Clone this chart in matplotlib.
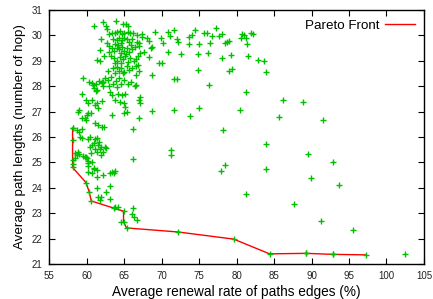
import matplotlib
matplotlib.use("Agg")
import matplotlib.pyplot as plt
import numpy as np

# Pareto front (red line)
pareto_x = [58.1, 58.1, 58.1, 59.9, 60.3, 60.6, 63.6, 64.9, 64.9, 65.3, 72.2, 79.6, 84.4, 89.3, 92.8, 97.3]
pareto_y = [26.35, 24.95, 24.8, 24.2, 23.85, 23.48, 23.2, 23.08, 22.66, 22.42, 22.26, 21.98, 21.4, 21.42, 21.38, 21.36]

# all other solutions (green crosses)
sol_x = [
    60.9, 62.1, 62.5, 62.7, 63.9, 64.8, 65.2, 65.5,
    62.9, 63.3, 63.7, 64.0, 64.4, 64.7, 65.0, 65.5, 65.8, 66.1,
    66.7, 67.3, 67.4, 66.7, 67.0, 66.9,
    68.1, 68.3, 68.6, 68.7, 69.1, 69.9, 70.2,
    70.9, 71.1, 71.7, 72.1, 72.2, 70.9, 72.6,
    73.6, 74.0, 74.5, 75.6, 76.0, 76.7, 73.7, 75.0, 76.5, 74.8, 76.2,
    67.1, 67.7, 68.3, 66.5, 66.8, 67.0, 66.6, 68.7, 69.6, 74.8, 71.6, 72.1, 76.3, 66.4,
    77.2, 77.6, 78.0, 78.7, 79.0, 78.5, 80.7, 81.0, 80.6, 81.2, 81.4, 81.9, 82.2,
    78.0, 79.3, 81.5, 82.8, 83.6, 83.9, 79.0, 79.4,
    81.2, 86.2, 88.8, 80.5, 85.7, 91.5, 78.2, 83.9, 89.5, 92.8, 78.5, 77.9,
    83.9, 89.9, 93.7, 81.2, 87.7, 91.2, 95.6, 89.2, 92.8, 102.5,
    59.4, 61.2, 63.1, 63.3, 64.1, 64.7, 65.1, 63.8, 64.4, 64.9, 65.1, 65.3, 64.9,
    60.7, 60.2, 61.1, 61.3, 62.0, 61.5, 59.0, 58.8, 60.0, 60.2, 60.6, 59.8, 63.4,
    61.1, 61.5, 62.0, 62.3, 66.2, 58.2, 58.7, 59.0, 59.3,
    59.1, 59.3, 60.1, 60.4, 61.1, 61.3, 60.9, 61.5, 62.4, 62.2, 61.8, 61.1,
    58.8, 58.4, 58.7, 58.2, 59.7, 60.0, 60.2, 60.7, 61.0, 61.3, 66.1, 58.1, 58.4,
    59.0, 59.5, 59.9, 60.5, 60.1, 60.2, 60.1, 60.9, 61.3, 60.7, 62.2, 63.1, 63.3, 63.7, 63.6,
    61.9, 62.5, 61.9, 61.6, 60.7, 60.4, 61.4,
    63.1, 62.5, 61.3, 61.9, 61.5, 61.7, 63.1, 63.8, 64.1,
    71.25, 71.25, 66.1, 66.25, 66.7, 66.0, 64.55,
    59.5, 66.9, 67.05, 67.1, 66.5, 65.9, 66.9, 68.7, 71.6, 73.75, 75.0, 70.0,
    61.9, 61.8, 61.4, 61.7, 62.3, 62.7,
    63.5, 64.0, 64.3, 64.7, 65.0, 65.3, 64.5, 65.6, 66.0, 65.9, 63.8, 64.2,
    63.0, 63.3, 63.6, 64.0, 64.3, 64.7, 65.0, 65.3, 65.6, 66.0, 66.4, 62.9, 64.5, 65.2,
    63.2, 63.6, 64.0, 64.4, 64.8, 65.1, 65.5, 65.8, 66.3, 66.8, 63.8, 64.6,
    63.5, 64.0, 64.3, 64.6, 65.0, 65.3, 65.6, 66.0, 66.6, 63.8, 64.8, 62.8,
    60.3, 60.8, 61.2, 61.6, 62.0, 62.4, 62.8, 63.2, 63.5, 63.9, 64.3, 64.6, 65.0, 65.5, 62.2, 63.0, 64.0,
    60.7, 61.0, 61.3, 62.0, 62.2, 59.9, 59.4, 59.9,
]
sol_y = [
    30.37, 30.52, 30.36, 30.24, 30.56, 30.45, 30.43, 30.35,
    30.05, 30.08, 30.10, 30.12, 30.15, 30.05, 30.10, 30.12, 30.08, 30.10,
    30.02, 30.04, 29.95, 29.75, 29.69, 29.58,
    29.89, 29.79, 29.49, 29.53, 30.11, 29.89, 29.69,
    30.11, 29.98, 30.21, 29.85, 29.75, 29.34, 29.26,
    29.95, 30.02, 30.19, 30.08, 30.08, 29.98, 29.66, 29.65, 29.69, 29.26, 29.30,
    29.30, 29.36, 29.16, 29.06, 28.85, 28.60, 28.45, 28.44, 28.90, 28.64, 28.28, 28.27, 28.05, 27.99,
    30.28, 29.98, 30.06, 29.75, 29.79, 29.71, 30.06, 30.02, 29.89, 29.89, 29.66, 30.08, 30.06,
    29.12, 29.23, 29.20, 29.03, 29.00, 28.55, 28.61, 28.68,
    27.75, 27.46, 27.36, 27.05, 26.78, 26.67, 26.28, 25.72, 25.32, 25.00, 24.90, 24.67,
    24.74, 24.37, 24.11, 23.74, 23.35, 22.71, 22.32, 21.44, 21.39, 21.40,
    27.70, 27.81, 27.78, 27.65, 27.69, 27.65, 27.69, 27.46, 27.39, 27.33, 27.19, 27.00, 26.93,
    27.46, 27.33, 27.26, 27.33, 27.43, 27.13, 27.06, 27.00, 26.87, 26.93, 26.96, 26.74, 26.87,
    26.54, 26.47, 26.41, 26.38, 26.30, 26.36, 26.28, 26.21, 26.30,
    26.00, 25.95, 25.91, 26.00, 25.91, 25.95, 25.75, 25.69, 25.60, 25.42, 25.51, 25.51,
    25.42, 25.36, 25.29, 25.88, 25.22, 25.16, 24.96, 25.03, 24.77, 24.70, 25.12, 25.10, 25.16,
    25.33, 25.25, 25.20, 25.35, 25.07, 24.86, 24.63, 24.72, 24.44, 24.57, 24.50, 24.57, 24.63, 24.67, 24.57,
    25.62, 25.55, 25.29, 25.81, 25.69, 25.62, 25.42,
    24.08, 23.85, 23.98, 23.62, 23.65, 23.52, 23.54, 23.25, 23.25,
    25.49, 25.29, 23.19, 22.86, 22.73, 22.97, 22.66,
    28.31, 27.46, 27.33, 27.59, 28.05, 28.18, 26.73, 27.02, 27.06, 26.83, 27.13, 28.90,
    29.85, 29.43, 29.03, 29.00, 29.17, 29.69,
    29.85, 29.82, 29.90, 29.80, 29.90, 29.85, 29.70, 29.75, 29.85, 29.60, 29.65, 29.60,
    29.58, 29.49, 29.40, 29.50, 29.45, 29.55, 29.40, 29.50, 29.35, 29.45, 29.55, 29.36, 29.30, 29.25,
    29.20, 29.10, 29.00, 29.15, 29.05, 29.20, 28.95, 29.10, 29.00, 29.20, 28.90, 28.90,
    28.70, 28.75, 28.60, 28.70, 28.55, 28.80, 28.65, 28.70, 28.80, 28.50, 28.50, 28.60,
    28.15, 28.05, 28.10, 28.20, 28.15, 28.30, 28.25, 28.35, 28.10, 28.20, 28.30, 28.10, 28.25, 28.10, 28.00, 28.00, 27.95,
    28.11, 27.92, 27.85, 28.11, 28.18, 27.46, 26.73, 26.67,
]

x_ticks = np.arange(55, 106, 5)
y_ticks = np.arange(21, 32, 1)

plt.rcParams['font.family'] = ['Liberation Sans', 'DejaVu Sans']

fig = plt.figure(figsize=(4.33, 2.99), dpi=100)
ax = fig.add_axes([0.114, 0.117, 0.865, 0.850])

ax.plot(pareto_x, pareto_y, color='#ff0000', lw=1.0, label='Pareto Front', zorder=2)
ax.plot(sol_x + pareto_x, sol_y + pareto_y, ls='none', marker='+', ms=5, mew=1.0,
        color='#00c000', zorder=3)

ax.set_xlim(55, 105)
ax.set_ylim(21, 31)
ax.set_xticks(x_ticks)
ax.set_yticks(y_ticks)
ax.tick_params(direction='in', top=True, right=True, length=4, width=0.8,
               labelsize=7, pad=5, labelcolor='#222222')
for s in ax.spines.values():
    s.set_linewidth(1.0)

ax.set_xlabel('Average renewal rate of paths edges (%)', fontsize=9.8, labelpad=3)
ax.set_ylabel('Average path lengths (number of hop)', fontsize=9.6, labelpad=4)

ax.legend(loc='upper right', frameon=False, markerfirst=False, fontsize=9.6,
          handlelength=2.2, borderaxespad=0.3, handletextpad=0.4)

fig.savefig('out.png', dpi=100)
